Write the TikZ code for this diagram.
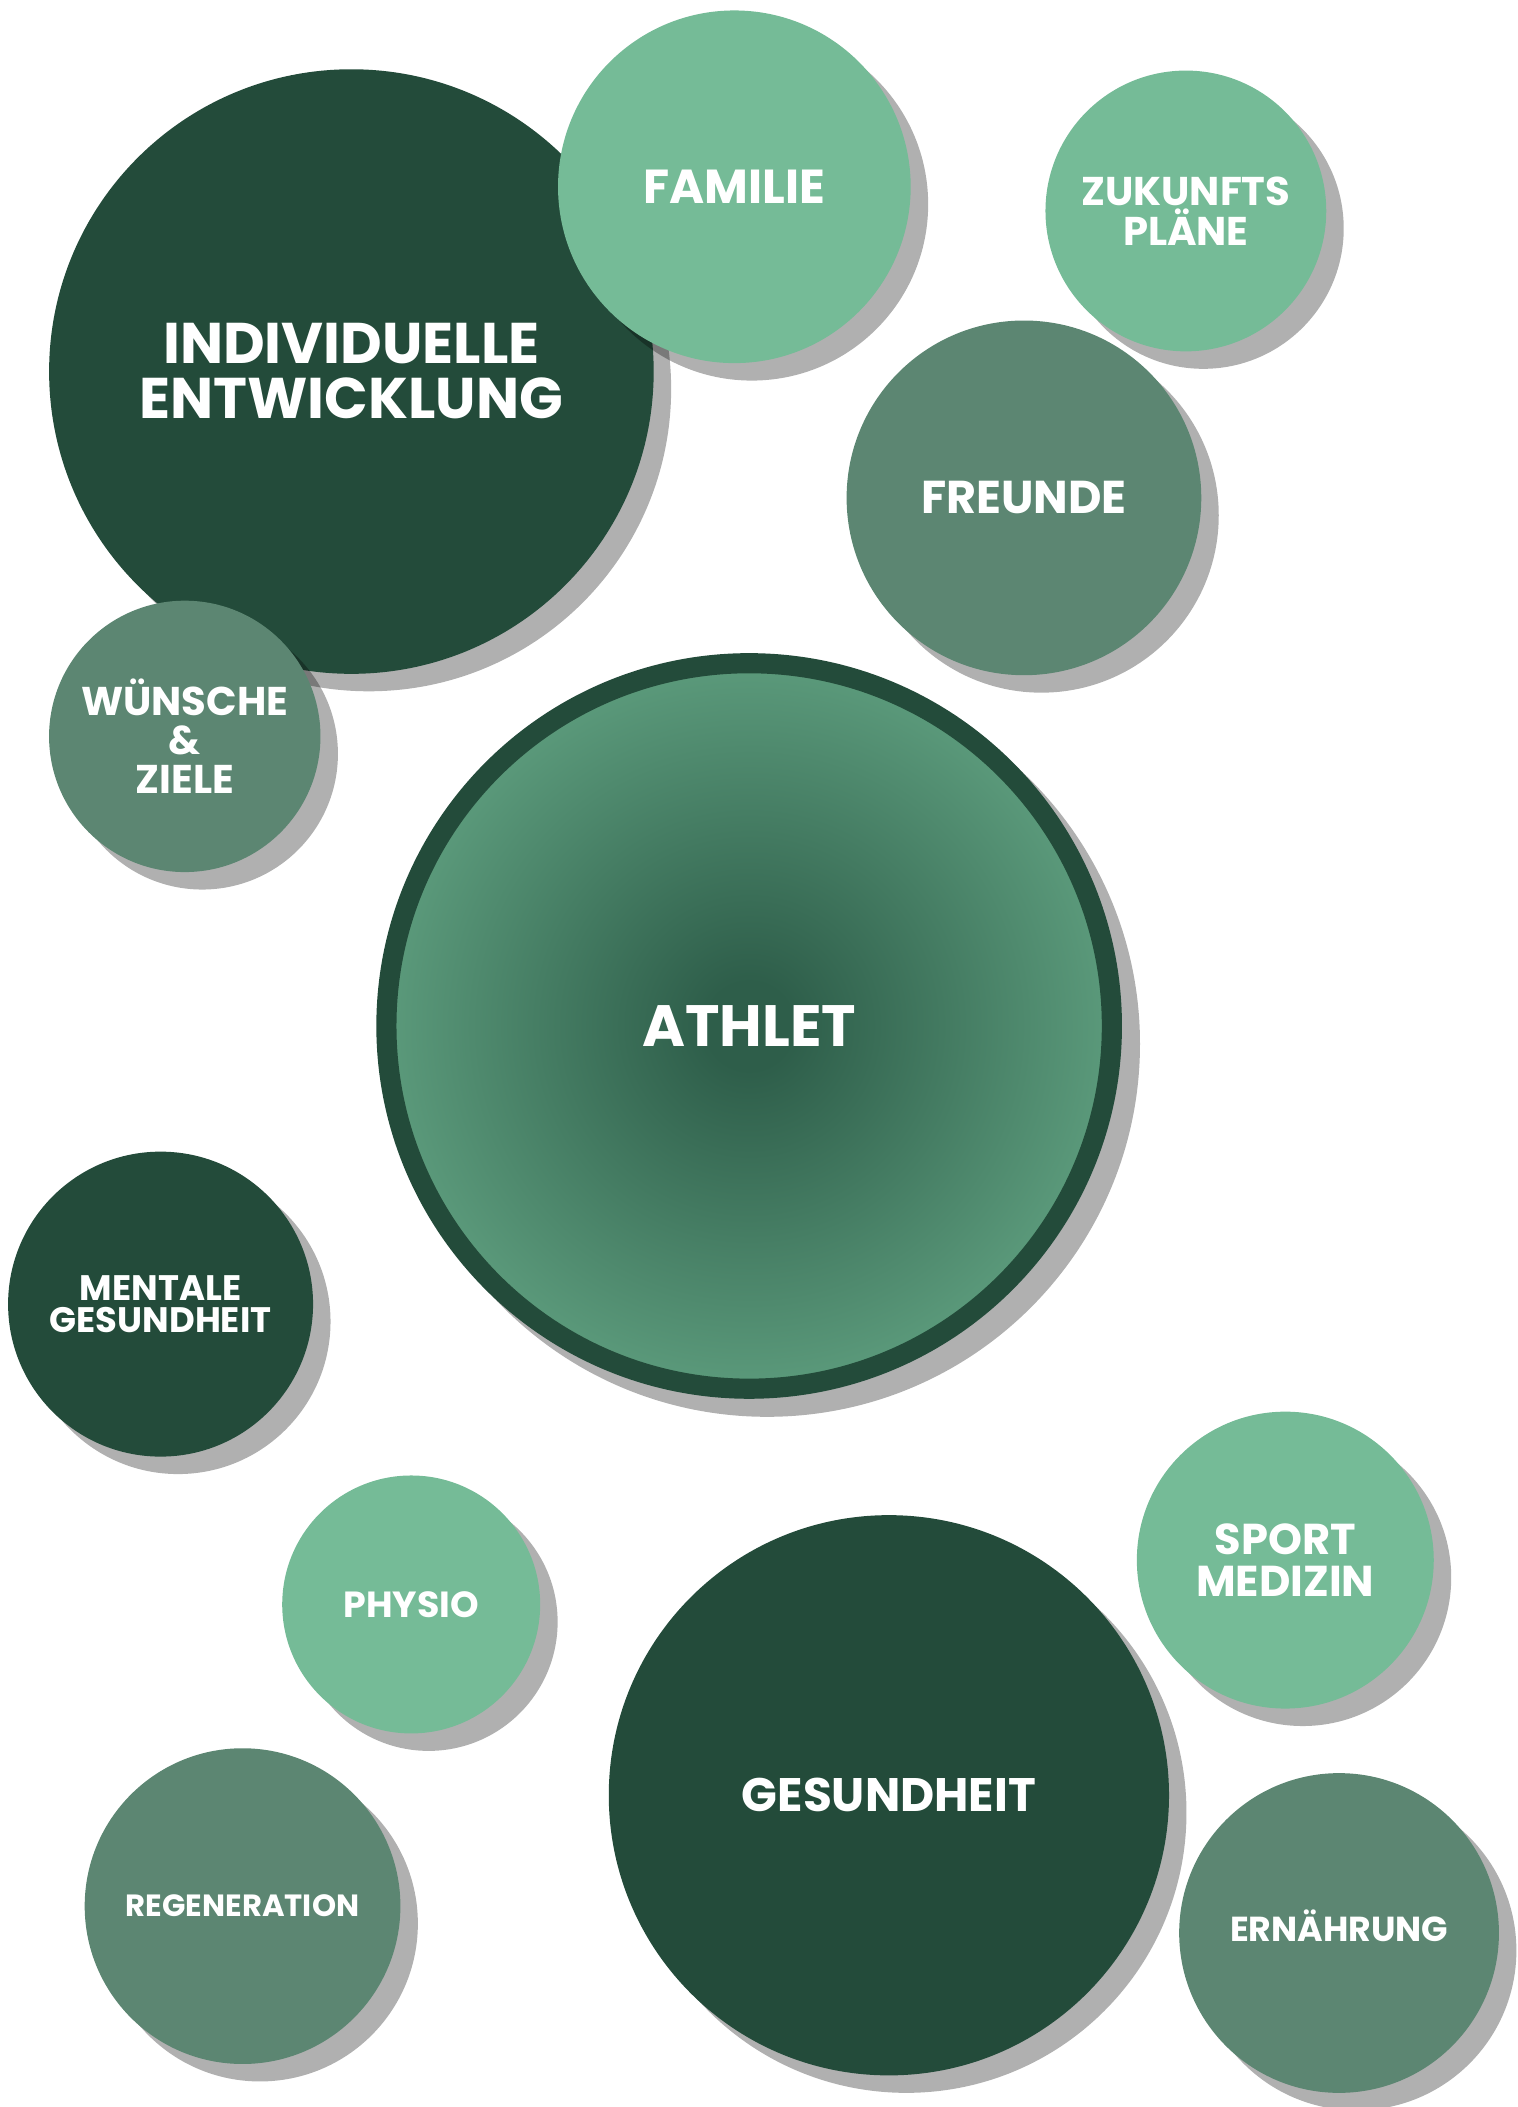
\documentclass[tikz,border=0pt]{standalone}
\usepackage{fontspec}
\setmainfont{Poppins}[UprightFont=* Bold]
\usetikzlibrary{shadows}
\definecolor{deepgreen}{HTML}{234B3A}
\definecolor{midgreen}{HTML}{5C8672}
\definecolor{palegreen}{HTML}{75BB97}
\definecolor{glowin}{HTML}{2E5E4A}
\definecolor{glowout}{HTML}{5B9A7B}
\pgfdeclareradialshading{athletglow}{\pgfpoint{0bp}{0bp}}{color(0bp)=(glowin); color(3bp)=(glowin); color(25bp)=(glowout); color(50bp)=(glowout)}
\tikzset{bubble/.style={shape=circle,inner sep=0pt,align=center,text=white,
    drop shadow={fill=black,opacity=.31,shadow xshift=.26cm,shadow yshift=-.26cm,#1}},
  bubble/.default={}}

\begin{document}
\begin{tikzpicture}[x=0.02cm,y=-0.02cm]
		\useasboundingbox (0,0) rectangle (1129,1568);
		%
		\node[bubble,fill=deepgreen,minimum size=9cm,font=\fontsize{24.3}{23.3}\selectfont] (individuell) at (261.5,276.5) {INDIVIDUELLE\\ENTWICKLUNG};
		\node[bubble,fill=palegreen,minimum size=5.25cm,font=\fontsize{20.2}{20}\selectfont] (familie) at (546.5,139) {FAMILIE};
		\node[bubble,fill=palegreen,minimum size=4.18cm,font=\fontsize{17}{17}\selectfont] (zukunft) at (882.5,157) {ZUKUNFTS\\PLÄNE};
		\node[bubble,fill=midgreen,minimum size=5.28cm,font=\fontsize{19.5}{20}\selectfont] (freunde) at (762,370.5) {FREUNDE};
		\node[bubble,fill=midgreen,minimum size=4.04cm,font=\fontsize{17}{16.5}\selectfont] (wuensche) at (137.5,548) {WÜNSCHE\\\&\\ZIELE};
		%
		\node[bubble={shadow scale=1.028},draw=deepgreen,line width=.3cm,shading=athletglow,minimum size=10.8cm,font=\fontsize{24.7}{26}\selectfont] (athlet) at (557.5,763.5) {ATHLET};
		%
		\node[bubble,fill=deepgreen,minimum size=4.54cm,font=\fontsize{15}{13.6}\selectfont] (mental) at (119.5,970.5) {MENTALE\\GESUNDHEIT};
		\node[bubble,fill=palegreen,minimum size=3.84cm,font=\fontsize{15.4}{16}\selectfont] (physio) at (306,1194) {PHYSIO};
		\node[bubble,fill=midgreen,minimum size=4.7cm,font=\fontsize{13}{14}\selectfont] (regeneration) at (180.5,1418.5) {REGENERATION};
		\node[bubble,fill=deepgreen,minimum size=8.34cm,font=\fontsize{19.9}{20}\selectfont] (gesundheit) at (661.5,1336) {GESUNDHEIT};
		\node[bubble,fill=palegreen,minimum size=4.42cm,font=\fontsize{18.3}{17.6}\selectfont] (sportmedizin) at (956.5,1161) {SPORT\\MEDIZIN};
		\node[bubble,fill=midgreen,minimum size=4.76cm,text height=.7em,text depth=0pt,font=\fontsize{14.7}{16}\selectfont] (ernaehrung) at (996.5,1438.5) {ERNÄHRUNG};
\end{tikzpicture}
\end{document}
